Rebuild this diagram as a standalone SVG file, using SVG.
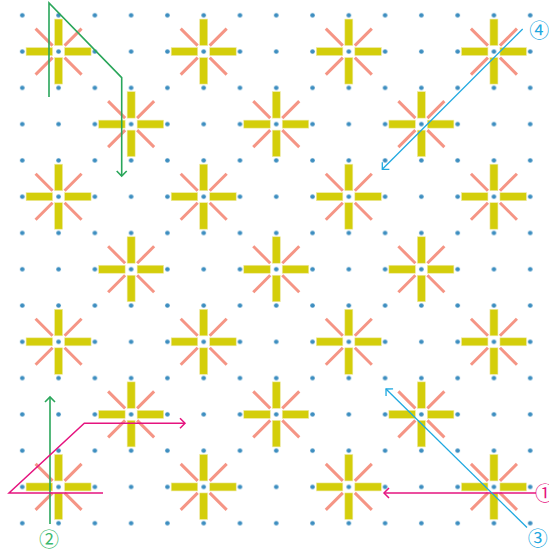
<svg xmlns="http://www.w3.org/2000/svg" width="549" height="554" viewBox="0 0 549 554">
<style>
.bar{fill:#d4ce0b;stroke:#eeeaa8;stroke-width:0.6}
.ray{stroke:#f59585;stroke-width:3;stroke-linecap:butt}
.g{fill:none;stroke:#2aa65a;stroke-width:1.6}
.p{fill:none;stroke:#e5147f;stroke-width:1.5}
.b{fill:none;stroke:#1fa8e0;stroke-width:1.3}
.lbl{font-family:"Noto Sans CJK JP","DejaVu Sans",sans-serif;font-size:20px;text-anchor:middle;dominant-baseline:central}
</style>
<defs>
<pattern id="dots" x="4.16" y="-2.84" width="36.28" height="36.28" patternUnits="userSpaceOnUse">
<circle cx="18.14" cy="18.14" r="2.3" fill="#3d8ec0"/>
</pattern>
<g id="star">
<line class="ray" x1="-6" y1="-6" x2="-23" y2="-23"/>
<line class="ray" x1="6" y1="-6" x2="23" y2="-23"/>
<line class="ray" x1="-6" y1="6" x2="-23" y2="23"/>
<line class="ray" x1="6" y1="6" x2="23" y2="23"/>
<rect class="bar" x="-4" y="-32.5" width="8" height="26.5"/>
<rect class="bar" x="-4" y="6" width="8" height="26.5"/>
<rect class="bar" x="-32.5" y="-4" width="26.5" height="8"/>
<rect class="bar" x="6" y="-4" width="26.5" height="8"/>
</g>
<marker id="ag" markerUnits="userSpaceOnUse" markerWidth="14" markerHeight="14" refX="0" refY="0" viewBox="-7 -7 14 14" orient="auto" overflow="visible"><path d="M-5,-5 L0,0 L-5,5" fill="none" stroke="#2aa65a" stroke-width="1.6"/></marker>
<marker id="ap" markerUnits="userSpaceOnUse" markerWidth="14" markerHeight="14" refX="0" refY="0" viewBox="-7 -7 14 14" orient="auto" overflow="visible"><path d="M-5,-5 L0,0 L-5,5" fill="none" stroke="#e5147f" stroke-width="1.5"/></marker>
<marker id="ab" markerUnits="userSpaceOnUse" markerWidth="14" markerHeight="14" refX="0" refY="0" viewBox="-7 -7 14 14" orient="auto" overflow="visible"><path d="M-5,-5 L0,0 L-5,5" fill="none" stroke="#1fa8e0" stroke-width="1.3"/></marker>
</defs>
<rect width="549" height="554" fill="#fff"/>
<rect id="grid" x="4.16" y="-2.84" width="544.2" height="544.2" fill="url(#dots)"/>
<g id="stars">
<use id="s1-1" href="#star" x="58.58" y="51.57"/>
<use id="s5-1" href="#star" x="203.7" y="51.57"/>
<use id="s9-1" href="#star" x="348.82" y="51.57"/>
<use id="s13-1" href="#star" x="493.94" y="51.57"/>
<use id="s3-3" href="#star" x="131.14" y="124.13"/>
<use id="s7-3" href="#star" x="276.26" y="124.13"/>
<use id="s11-3" href="#star" x="421.38" y="124.13"/>
<use id="s1-5" href="#star" x="58.58" y="196.69"/>
<use id="s5-5" href="#star" x="203.7" y="196.69"/>
<use id="s9-5" href="#star" x="348.82" y="196.69"/>
<use id="s13-5" href="#star" x="493.94" y="196.69"/>
<use id="s3-7" href="#star" x="131.14" y="269.25"/>
<use id="s7-7" href="#star" x="276.26" y="269.25"/>
<use id="s11-7" href="#star" x="421.38" y="269.25"/>
<use id="s1-9" href="#star" x="58.58" y="341.81"/>
<use id="s5-9" href="#star" x="203.7" y="341.81"/>
<use id="s9-9" href="#star" x="348.82" y="341.81"/>
<use id="s13-9" href="#star" x="493.94" y="341.81"/>
<use id="s3-11" href="#star" x="131.14" y="414.37"/>
<use id="s7-11" href="#star" x="276.26" y="414.37"/>
<use id="s11-11" href="#star" x="421.38" y="414.37"/>
<use id="s1-13" href="#star" x="58.58" y="486.93"/>
<use id="s5-13" href="#star" x="203.7" y="486.93"/>
<use id="s9-13" href="#star" x="348.82" y="486.93"/>
<use id="s13-13" href="#star" x="493.94" y="486.93"/>
</g>
<g id="connectors">
<path class="g" d="M49,97 L49,3 L121.7,77.7 L121.7,176" marker-end="url(#ag)"/>
<path class="g" d="M50,524 L50,397" marker-end="url(#ag)"/>
<path class="p" d="M536,493 L384,493" marker-end="url(#ap)"/>
<path class="p" d="M103,493 L9,493 L84.3,423.3 L185,423.3" marker-end="url(#ap)"/>
<path class="b" d="M527,527.5 L386,389" marker-end="url(#ab)"/>
<path class="b" d="M522.7,29 L382.3,169.3" marker-end="url(#ab)"/>
</g>
<g id="labels">
<text id="l1" class="lbl" x="545" y="492.7" fill="#e5147f">①</text>
<text id="l2" class="lbl" x="49" y="538.3" fill="#3cb96e">②</text>
<text id="l3" class="lbl" x="537.7" y="537.3" fill="#1fa8e0">③</text>
<text id="l4" class="lbl" x="539.3" y="29.3" fill="#1fa8e0">④</text>
</g>
</svg>
